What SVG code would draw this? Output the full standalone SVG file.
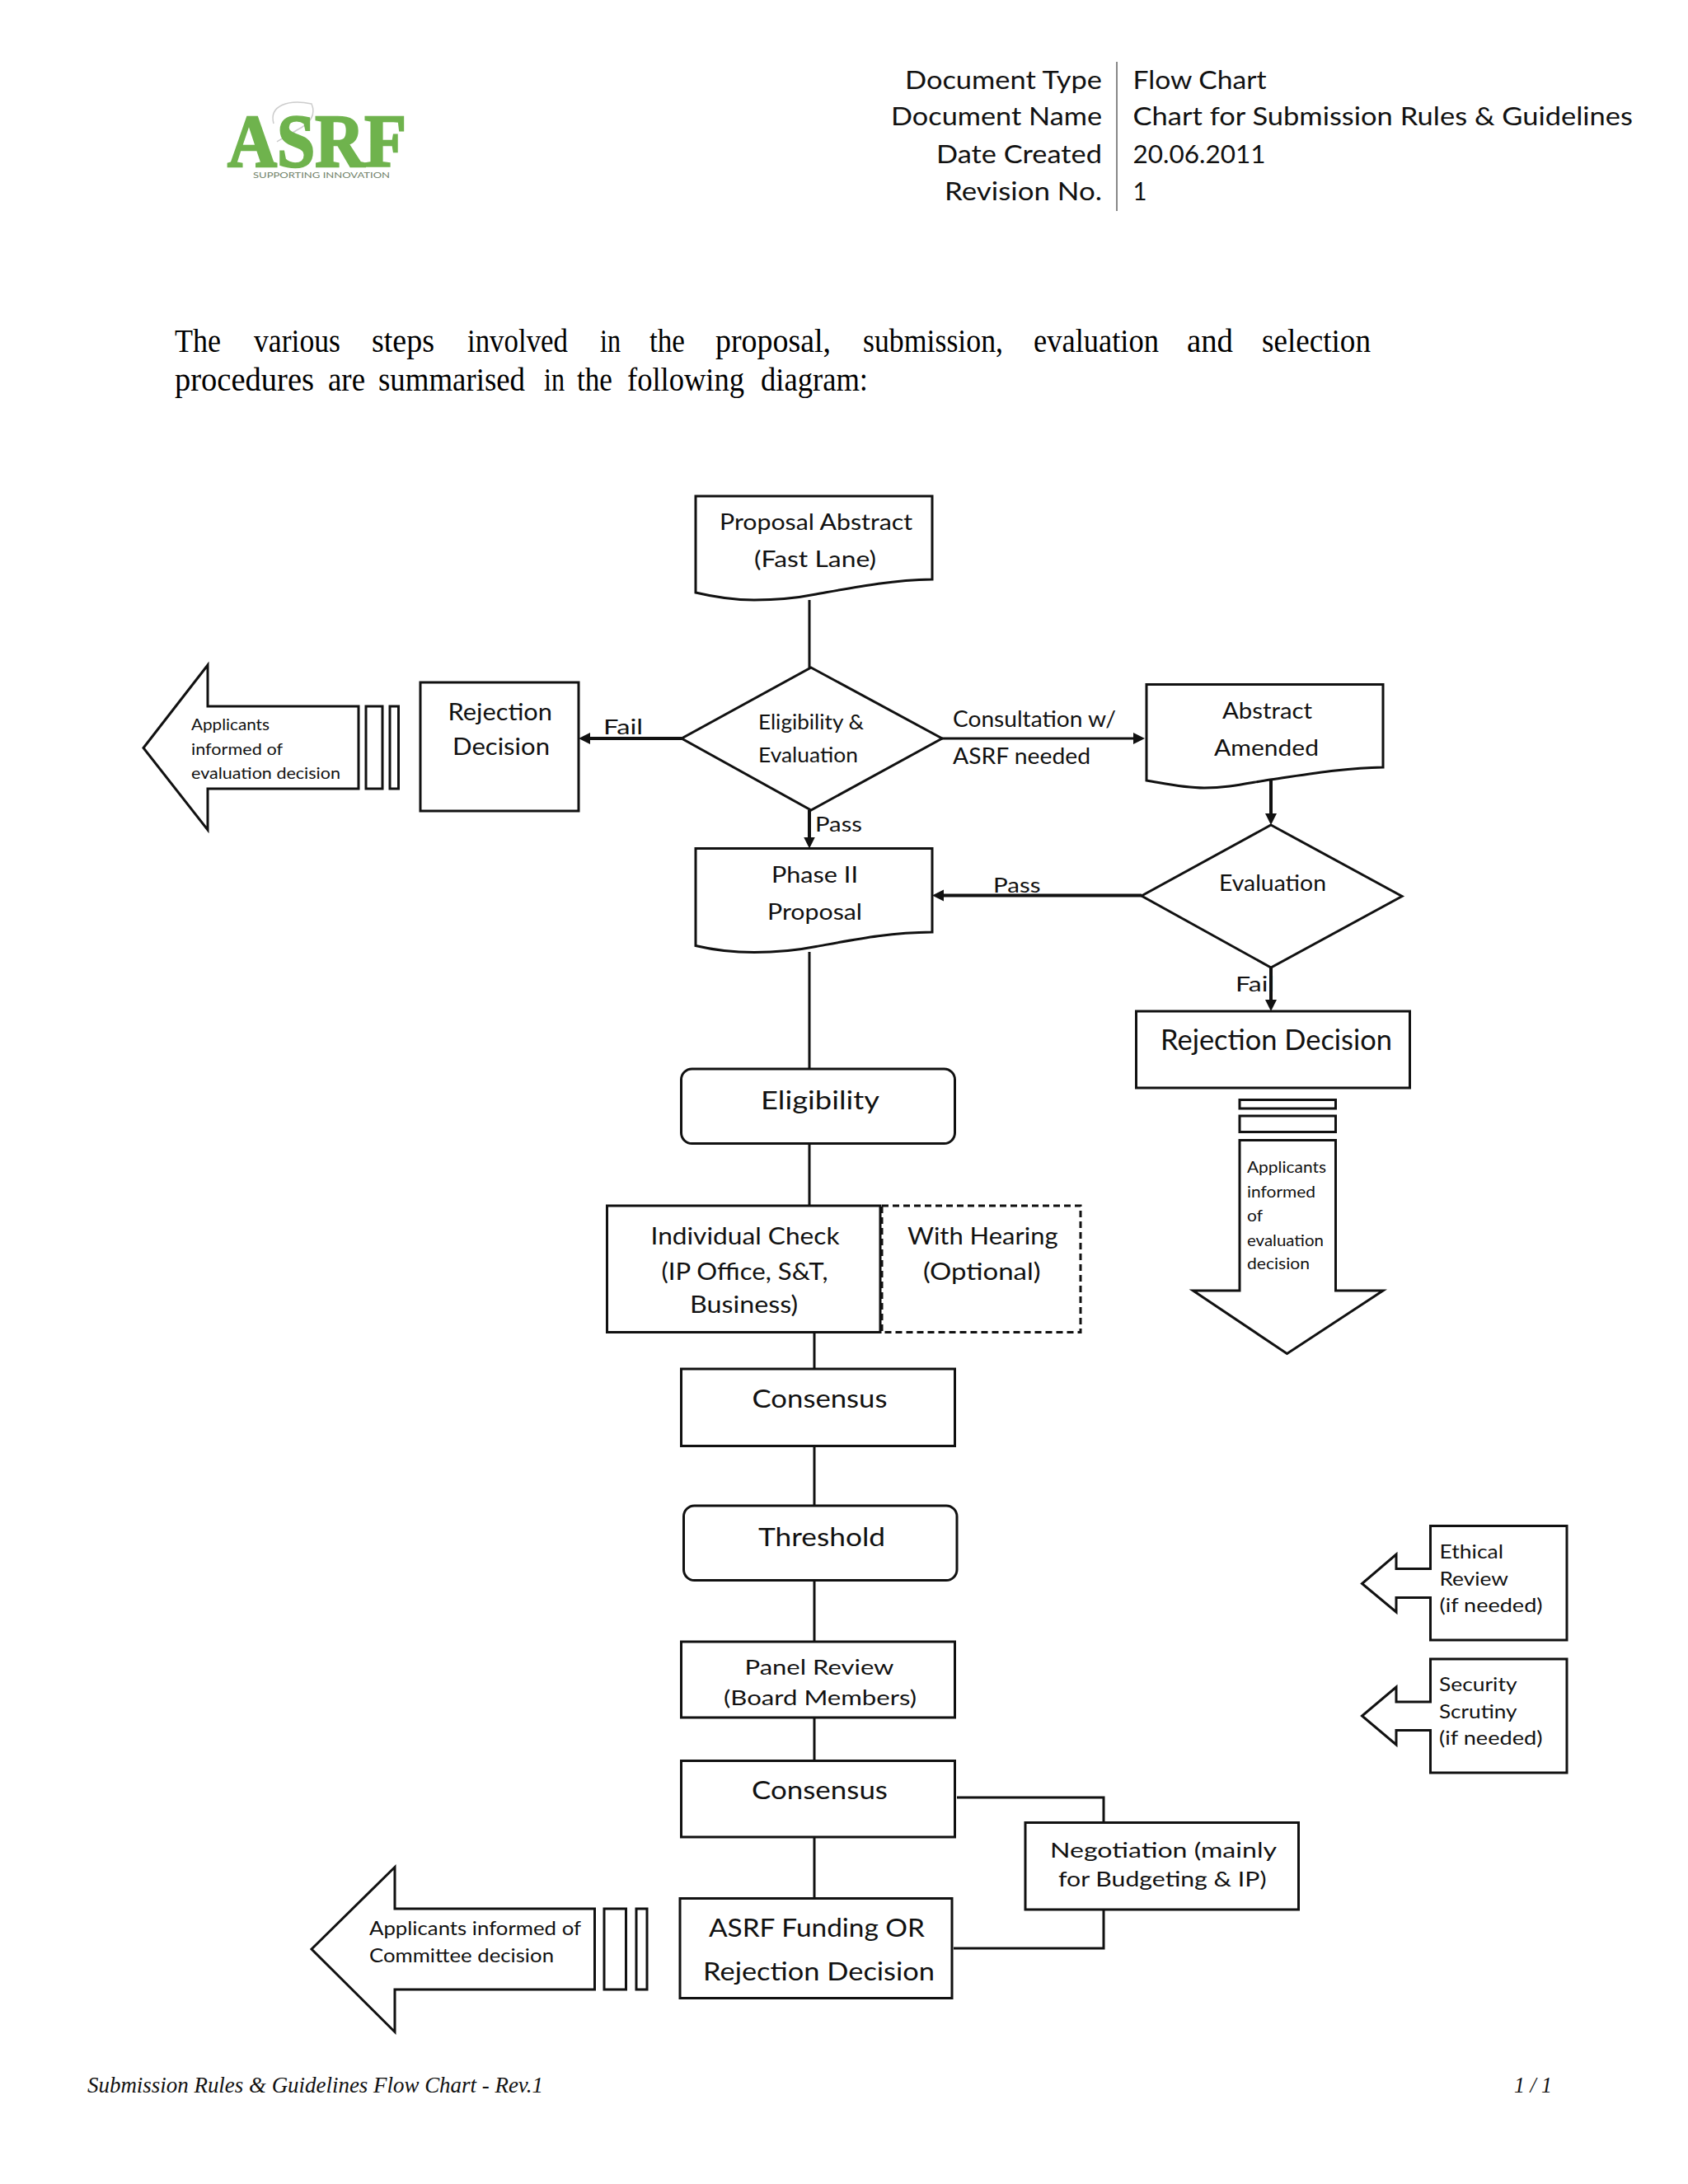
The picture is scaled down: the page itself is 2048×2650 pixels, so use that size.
<svg xmlns="http://www.w3.org/2000/svg" width="2048" height="2650" viewBox="0 0 2048 2650">
<style>
text{font-family:"Lato","Open Sans","Liberation Sans",sans-serif;fill:#111}
.shape{fill:#fff;stroke:#111;stroke-width:3;stroke-linejoin:miter}
.dash{fill:none;stroke:#111;stroke-width:3;stroke-dasharray:8 5}
.con{fill:none;stroke:#111;stroke-width:3}
.arr{fill:none;stroke:#111;stroke-width:4;marker-end:url(#ah)}
.hd{font-size:31px}
.serif{font-family:"Liberation Serif","Times New Roman",serif;font-size:40px;fill:#000}
.foot{font-family:"Liberation Serif","Times New Roman",serif;font-style:italic;font-size:28px}
.s20{font-size:20px}.s23{font-size:23px}.s25{font-size:25px}.s27{font-size:27px}.s29{font-size:29px}.s31{font-size:31px}.s34{font-size:34px}
</style>
<defs>
<marker id="ah" markerUnits="userSpaceOnUse" markerWidth="16" markerHeight="16" refX="6" refY="7" orient="auto">
<path d="M0 0L14 7L0 14Z" fill="#111"/>
</marker>
</defs>
<rect width="2048" height="2650" fill="#fff"/>

<g id="logo">
<path d="M332 150C326 128 350 120 378 126C384 140 376 150 360 158C350 164 342 168 336 172" fill="none" stroke="#ccc" stroke-width="1.500"/>
<text x="276" y="202" textLength="217" lengthAdjust="spacingAndGlyphs" style="font-family:'Liberation Serif',serif;font-weight:bold;font-size:90px;fill:#6fb34d;stroke:#6fb34d;stroke-width:2.500">ASRF</text>
<text x="307" y="216" textLength="166" lengthAdjust="spacingAndGlyphs" style="font-size:10px;fill:#6f7f68">SUPPORTING INNOVATION</text>
</g>

<g id="header">
<line x1="1355" y1="75" x2="1355" y2="256" stroke="#888" stroke-width="2"/>
<text class="hd" x="1098" y="108" textLength="239" lengthAdjust="spacingAndGlyphs">Document Type</text>
<text class="hd" x="1081" y="152" textLength="256" lengthAdjust="spacingAndGlyphs">Document Name</text>
<text class="hd" x="1136" y="198" textLength="201" lengthAdjust="spacingAndGlyphs">Date Created</text>
<text class="hd" x="1146" y="243" textLength="191" lengthAdjust="spacingAndGlyphs">Revision No.</text>
<text class="hd" x="1374.500" y="108" textLength="162" lengthAdjust="spacingAndGlyphs">Flow Chart</text>
<text class="hd" x="1374.500" y="152" textLength="606.500" lengthAdjust="spacingAndGlyphs">Chart for Submission Rules &amp; Guidelines</text>
<text class="hd" x="1374.500" y="198" textLength="161" lengthAdjust="spacingAndGlyphs">20.06.2011</text>
<text class="hd" x="1374.500" y="243" textLength="17" lengthAdjust="spacingAndGlyphs">1</text>
</g>

<g id="intro">
<text class="serif" y="427"><tspan x="212" textLength="56" lengthAdjust="spacingAndGlyphs">The</tspan> <tspan x="308" textLength="105" lengthAdjust="spacingAndGlyphs">various</tspan> <tspan x="451" textLength="76" lengthAdjust="spacingAndGlyphs">steps</tspan> <tspan x="567" textLength="122" lengthAdjust="spacingAndGlyphs">involved</tspan> <tspan x="728" textLength="25" lengthAdjust="spacingAndGlyphs">in</tspan> <tspan x="788" textLength="43" lengthAdjust="spacingAndGlyphs">the</tspan> <tspan x="868" textLength="140" lengthAdjust="spacingAndGlyphs">proposal,</tspan> <tspan x="1047" textLength="170" lengthAdjust="spacingAndGlyphs">submission,</tspan> <tspan x="1254" textLength="152" lengthAdjust="spacingAndGlyphs">evaluation</tspan> <tspan x="1440" textLength="56" lengthAdjust="spacingAndGlyphs">and</tspan> <tspan x="1531" textLength="132" lengthAdjust="spacingAndGlyphs">selection</tspan></text>
<text class="serif" y="474"><tspan x="212" textLength="169" lengthAdjust="spacingAndGlyphs">procedures</tspan> <tspan x="398" textLength="45" lengthAdjust="spacingAndGlyphs">are</tspan> <tspan x="459" textLength="178" lengthAdjust="spacingAndGlyphs">summarised</tspan> <tspan x="660" textLength="25" lengthAdjust="spacingAndGlyphs">in</tspan> <tspan x="700" textLength="43" lengthAdjust="spacingAndGlyphs">the</tspan> <tspan x="761" textLength="142" lengthAdjust="spacingAndGlyphs">following</tspan> <tspan x="923" textLength="130" lengthAdjust="spacingAndGlyphs">diagram:</tspan></text>
</g>

<g id="connectors">
<path class="con" d="M982 728V810"/>
<path class="con" d="M982 1155V1297"/>
<path class="con" d="M982 1387V1463"/>
<path class="con" d="M988 1616V1661"/>
<path class="con" d="M988 1754V1827"/>
<path class="con" d="M988 1917V1992"/>
<path class="con" d="M988 2084V2136"/>
<path class="con" d="M988 2229V2304"/>
<path class="con" d="M1161 2181H1339V2211"/>
<path class="con" d="M1339 2317V2364H1157"/>
<path class="arr" d="M827 896H710"/>
<path class="arr" d="M982 983V1021.500"/>
<path class="arr" style="stroke-width:3" d="M1141 896H1381"/>
<path class="arr" d="M1542 946V993"/>
<path class="arr" d="M1385 1086.500H1139"/>
<path class="arr" d="M1542 1174V1219"/>
</g>

<g id="proposal-abstract">
<path class="shape" d="M844 602H1131V703C1080 704 1040 712 990 721C960 727 935 728 915 728C890 728 865 724 844 719Z"/>
<text class="s27" x="873" y="643" textLength="234" lengthAdjust="spacingAndGlyphs">Proposal Abstract</text>
<text class="s27" x="915" y="688" textLength="148" lengthAdjust="spacingAndGlyphs">(Fast Lane)</text>
</g>

<g id="eligibility-evaluation">
<path class="shape" d="M984 810L1143 896L984 983L827 896Z"/>
<text class="s25" x="920" y="885" textLength="128" lengthAdjust="spacingAndGlyphs">Eligibility &amp;</text>
<text class="s25" x="920" y="925" textLength="121" lengthAdjust="spacingAndGlyphs">Evaluation</text>
</g>

<g id="rejection-1">
<rect class="shape" x="510" y="828" width="192" height="156"/>
<text class="s29" x="543.500" y="874" textLength="126.500" lengthAdjust="spacingAndGlyphs">Rejection</text>
<text class="s29" x="549" y="916" textLength="118" lengthAdjust="spacingAndGlyphs">Decision</text>
</g>

<g id="notify-1">
<rect class="shape" x="473" y="857" width="10.500" height="100"/>
<rect class="shape" x="444" y="857" width="20" height="100"/>
<path class="shape" d="M174 907.500L252 807V857H435V957H252V1007Z"/>
<text class="s20" x="232" y="886" textLength="95" lengthAdjust="spacingAndGlyphs">Applicants</text>
<text class="s20" x="232" y="915.500" textLength="111" lengthAdjust="spacingAndGlyphs">informed of</text>
<text class="s20" x="232" y="944.500" textLength="181" lengthAdjust="spacingAndGlyphs">evaluation  decision</text>
</g>

<g id="edge-labels">
<text class="s25" x="732" y="891" textLength="48" lengthAdjust="spacingAndGlyphs">Fail</text>
<text class="s25" x="989" y="1009" textLength="57" lengthAdjust="spacingAndGlyphs">Pass</text>
<text class="s27" x="1156" y="882" textLength="198" lengthAdjust="spacingAndGlyphs">Consultation w/</text>
<text class="s27" x="1156" y="927" textLength="167" lengthAdjust="spacingAndGlyphs">ASRF needed</text>
<text class="s25" x="1205" y="1083" textLength="57.500" lengthAdjust="spacingAndGlyphs">Pass</text>
<text class="s25" x="1499" y="1203" textLength="47" lengthAdjust="spacingAndGlyphs">Fail</text>
</g>

<g id="abstract-amended">
<path class="shape" d="M1391 830.500H1678V931C1630 932 1590 939 1541 946C1510 951 1490 956 1461 956C1435 956 1410 950 1391 947Z"/>
<text class="s27" x="1483" y="872" textLength="109" lengthAdjust="spacingAndGlyphs">Abstract</text>
<text class="s27" x="1473" y="917" textLength="127" lengthAdjust="spacingAndGlyphs">Amended</text>
</g>

<g id="evaluation">
<path class="shape" d="M1542 1001L1701 1087.500L1542 1174L1385 1087Z"/>
<text class="s27" x="1479" y="1080.500" textLength="130" lengthAdjust="spacingAndGlyphs">Evaluation</text>
</g>

<g id="phase-2">
<path class="shape" d="M844 1029.500H1131V1131C1080 1131.500 1040 1139.500 990 1148.500C960 1154.500 935 1155.500 915 1155.500C890 1155.500 865 1152.500 844 1147.500Z"/>
<text class="s27" x="936" y="1070.500" textLength="105" lengthAdjust="spacingAndGlyphs">Phase II</text>
<text class="s27" x="931" y="1115.500" textLength="115" lengthAdjust="spacingAndGlyphs">Proposal</text>
</g>

<g id="rejection-2">
<rect class="shape" x="1378.500" y="1227" width="332" height="93"/>
<text class="s34" x="1408" y="1273.500" textLength="281" lengthAdjust="spacingAndGlyphs">Rejection Decision</text>
</g>

<g id="notify-2">
<rect class="shape" x="1504" y="1334.500" width="116.500" height="10.500"/>
<rect class="shape" x="1504" y="1354" width="116.500" height="19.500"/>
<path class="shape" d="M1504 1383.500H1620.500V1566H1678L1561.500 1642.500L1447.500 1566H1504Z"/>
<text class="s20" x="1513" y="1423" textLength="96" lengthAdjust="spacingAndGlyphs">Applicants</text>
<text class="s20" x="1513" y="1453" textLength="83" lengthAdjust="spacingAndGlyphs">informed</text>
<text class="s20" x="1513" y="1481.500" textLength="19" lengthAdjust="spacingAndGlyphs">of</text>
<text class="s20" x="1513" y="1511.500" textLength="93" lengthAdjust="spacingAndGlyphs">evaluation</text>
<text class="s20" x="1513" y="1539.500" textLength="76" lengthAdjust="spacingAndGlyphs">decision</text>
</g>

<g id="eligibility">
<rect class="shape" x="826.500" y="1297" width="332" height="90.500" rx="13"/>
<text class="s31" x="923" y="1346" textLength="144" lengthAdjust="spacingAndGlyphs">Eligibility</text>
</g>

<g id="individual-check">
<rect class="shape" x="736.500" y="1463" width="331.500" height="153.500"/>
<text class="s29" x="789.500" y="1510" textLength="229" lengthAdjust="spacingAndGlyphs">Individual Check</text>
<text class="s29" x="802.500" y="1552.500" textLength="202" lengthAdjust="spacingAndGlyphs">(IP Office, S&amp;T,</text>
<text class="s29" x="837" y="1593" textLength="131" lengthAdjust="spacingAndGlyphs">Business)</text>
</g>

<g id="with-hearing">
<rect class="dash" x="1070" y="1463" width="241" height="153.500"/>
<text class="s29" x="1101" y="1510" textLength="182.500" lengthAdjust="spacingAndGlyphs">With Hearing</text>
<text class="s29" x="1120" y="1552.500" textLength="142.500" lengthAdjust="spacingAndGlyphs">(Optional)</text>
</g>

<g id="consensus-1">
<rect class="shape" x="826.500" y="1661" width="332" height="93.500"/>
<text class="s31" x="912.500" y="1707.500" textLength="164" lengthAdjust="spacingAndGlyphs">Consensus</text>
</g>

<g id="threshold">
<rect class="shape" x="829.500" y="1827" width="331.500" height="90.500" rx="13"/>
<text class="s31" x="920" y="1876" textLength="154" lengthAdjust="spacingAndGlyphs">Threshold</text>
</g>

<g id="panel-review">
<rect class="shape" x="826.500" y="1992" width="332" height="92"/>
<text class="s25" x="903.500" y="2032" textLength="181" lengthAdjust="spacingAndGlyphs">Panel Review</text>
<text class="s25" x="878" y="2069" textLength="234" lengthAdjust="spacingAndGlyphs">(Board Members)</text>
</g>

<g id="consensus-2">
<rect class="shape" x="826.500" y="2136.500" width="332" height="92.500"/>
<text class="s31" x="912" y="2182.500" textLength="165" lengthAdjust="spacingAndGlyphs">Consensus</text>
</g>

<g id="negotiation">
<rect class="shape" x="1244" y="2211.500" width="331.500" height="105.500"/>
<text class="s25" x="1274" y="2254" textLength="275" lengthAdjust="spacingAndGlyphs">Negotiation (mainly</text>
<text class="s25" x="1284" y="2288.500" textLength="252.500" lengthAdjust="spacingAndGlyphs">for Budgeting &amp; IP)</text>
</g>

<g id="funding">
<rect class="shape" x="825" y="2303.500" width="330" height="121"/>
<text class="s31" x="860" y="2350" textLength="262" lengthAdjust="spacingAndGlyphs">ASRF Funding OR</text>
<text class="s31" x="853" y="2402.500" textLength="281" lengthAdjust="spacingAndGlyphs">Rejection Decision</text>
</g>

<g id="notify-3">
<rect class="shape" x="772" y="2316" width="13" height="98"/>
<rect class="shape" x="733" y="2316" width="26.500" height="98"/>
<path class="shape" d="M378 2365L479 2265.500V2316H721.500V2414H479V2465.500Z"/>
<text class="s23" x="448" y="2348" textLength="257" lengthAdjust="spacingAndGlyphs">Applicants informed of</text>
<text class="s23" x="448" y="2381" textLength="224" lengthAdjust="spacingAndGlyphs">Committee decision</text>
</g>

<g id="ethical-review">
<path class="shape" d="M1735.500 1851.500H1901V1990H1735.500V1938.500H1694V1956L1652.500 1921.500L1694 1886V1903.500H1735.500Z"/>
<text class="s23" x="1746.500" y="1891" textLength="77.500" lengthAdjust="spacingAndGlyphs">Ethical</text>
<text class="s23" x="1746.500" y="1923.500" textLength="83.500" lengthAdjust="spacingAndGlyphs">Review</text>
<text class="s23" x="1746.500" y="1956" textLength="125" lengthAdjust="spacingAndGlyphs">(if needed)</text>
</g>

<g id="security-scrutiny">
<path class="shape" d="M1735.500 2013H1901V2151H1735.500V2099.500H1694V2117L1652.500 2082L1694 2047V2065H1735.500Z"/>
<text class="s23" x="1746" y="2052" textLength="94.500" lengthAdjust="spacingAndGlyphs">Security</text>
<text class="s23" x="1746" y="2085" textLength="94.500" lengthAdjust="spacingAndGlyphs">Scrutiny</text>
<text class="s23" x="1746" y="2117" textLength="125.500" lengthAdjust="spacingAndGlyphs">(if needed)</text>
</g>

<g id="footer">
<text class="foot" x="106" y="2539" textLength="553" lengthAdjust="spacingAndGlyphs">Submission Rules &amp; Guidelines Flow Chart - Rev.1</text>
<text class="foot" x="1837" y="2539" textLength="46" lengthAdjust="spacingAndGlyphs">1 / 1</text>
</g>
</svg>
